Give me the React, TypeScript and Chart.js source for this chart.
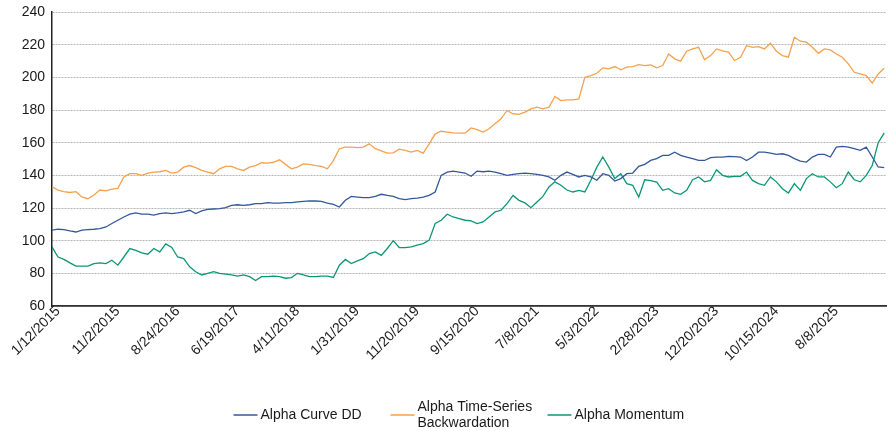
import React, { useEffect, useRef } from "react";
import { Chart, registerables } from "chart.js";

Chart.register(...registerables);

const tickLabels = [
  "1/12/2015", "11/2/2015", "8/24/2016", "6/19/2017", "4/11/2018", "1/31/2019", "11/20/2019",
  "9/15/2020", "7/8/2021", "5/3/2022", "2/28/2023", "12/20/2023", "10/15/2024", "8/8/2025",
];
const pointsPerTick = 10;

const seriesNames = ["Alpha Curve DD", "Alpha Time-Series Backwardation", "Alpha Momentum"];

const curveDD = [
  106.4, 107, 106.8, 106, 105.3, 106.4, 106.8, 107, 107.4, 108.4,
  110.5, 112.5, 114.5, 116.2, 117, 116.2, 116.2, 115.6, 116.6, 117,
  116.6, 117, 117.6, 118.6, 116.6, 118.2, 119.2, 119.4, 119.6, 120.2,
  121.6, 122, 121.6, 122, 122.7, 122.7, 123.3, 123, 123, 123.3,
  123.3, 123.7, 124, 124.3, 124.3, 124.1, 123, 122.2, 120.6, 124.7,
  127.1, 126.7, 126.3, 126.3, 127.1, 128.4, 127.7, 127.1, 125.7, 125.1,
  125.7, 126.1, 126.7, 127.7, 129.8, 140, 142, 142.6, 142, 141.4,
  139.4, 142.6, 142.2, 142.6, 142, 141, 140, 140.6, 141, 141.4,
  141, 140.6, 140, 139, 137, 140, 142, 140.6, 139, 140,
  139, 137, 141, 140, 136.5, 138, 141, 141.4, 145.5, 146.7,
  149.1, 150.2, 152.2, 152.2, 154.2, 152.2, 151.2, 150.2, 149.1, 149.1,
  150.8, 151.2, 151.2, 151.6, 151.4, 151.2, 149.1, 151.2, 154.2, 154.2,
  153.6, 152.8, 153.2, 152.2, 150.2, 148.7, 148.1, 151.2, 152.8, 152.8,
  151.2, 157.3, 157.7, 157.3, 156.3, 155.3, 157.3, 151.2, 145.1, 144.7,
];

const backwardation = [
  133, 131, 130, 129.5, 130, 126.8, 125.7, 128, 131, 130.5,
  131.5, 132, 139, 141, 141, 140, 141.4, 142, 142.2, 143,
  141.4, 142, 145, 146, 144.7, 143, 142, 141, 144, 145.5,
  145.5, 144, 143, 145, 146, 147.7, 147.5, 148, 149.5, 146.7,
  144, 145, 147, 146.7, 146, 145.5, 144, 149, 156.3, 157.3,
  157.3, 157, 157.3, 159.3, 156.3, 155, 153.6, 153.8, 156, 155.3,
  154.2, 155.3, 153.6, 159.3, 165.4, 167, 166.5, 166, 165.8, 165.8,
  169, 168, 166.5, 168.5, 171.6, 174.6, 179.7, 177.7, 177.3, 178.7,
  180.7, 181.7, 180.7, 181.7, 188.3, 185.8, 186.2, 186.2, 186.8, 200,
  201, 202.5, 205.8, 205.2, 206.6, 204.6, 206.2, 206.6, 207.8, 207.2,
  207.6, 205.8, 207.2, 214.3, 211.3, 209.9, 216, 217.4, 218.4, 210.7,
  213.3, 217.4, 216.2, 215.5, 210.3, 212.3, 219.4, 218.4, 218.8, 217.4,
  220.9, 216, 213.3, 212.3, 224.5, 222.1, 221.5, 218.4, 214.7, 217.4,
  216.8, 214.3, 212.3, 208.2, 203.1, 202.1, 201.1, 196.4, 202.1, 205.5,
];

const momentum = [
  96.2, 90, 88.5, 86.4, 84.4, 84.4, 84.4, 86, 86.4, 86,
  88, 85, 90, 95.2, 94.1, 92.5, 91.7, 95.2, 93.1, 98,
  95.8, 90, 89, 84, 81, 79, 80, 81, 80, 79.5,
  79, 78.3, 79, 78, 75.6, 78, 78, 78.3, 78, 77,
  77.4, 80, 79, 78, 78, 78.3, 78.3, 77.5, 85, 88.5,
  86, 87.6, 89, 92.1, 93.1, 91, 95.2, 100, 95.8, 95.8,
  96.2, 97.2, 98.2, 100.3, 110.5, 112.5, 116.2, 114.5, 113.5, 112.5,
  112.1, 110.5, 111.5, 114.5, 117.6, 118.6, 122.7, 127.7, 124.7, 123.1,
  120.2, 123.7, 127.1, 132.9, 136, 133.9, 131, 129.8, 130.8, 129.8,
  137, 145, 151.2, 145, 138, 141, 134.9, 133.9, 126.7, 137.3,
  136.8, 135.9, 130.8, 131.8, 129.2, 128.4, 130.8, 137.3, 139, 136,
  136.9, 143.4, 140, 139, 139.4, 139.4, 142, 136.9, 134.9, 133.9,
  139, 136, 131.8, 129.2, 134.9, 130.8, 138, 141, 139, 139,
  136, 132.4, 134.9, 142, 137.3, 136, 140, 146, 160, 166,
];

const colors = ["#33589a", "#f4a24e", "#0b9775"];

const FONT = '"Liberation Sans", Arial, sans-serif';

const slotLegend = {
  id: "slotLegend",
  afterDraw(chart: any) {
    const { ctx, chartArea } = chart;
    const ds = chart.data.datasets;
    const slot = 157;
    const marker = 24;
    const textGap = 3;
    const total = slot * ds.length;
    const startX = (chartArea.left + chartArea.right) / 2 - total / 2;
    const cy = chart.height - 16;
    const lh = 16;
    ctx.save();
    ctx.font = "14px " + FONT;
    ctx.textBaseline = "middle";
    ctx.textAlign = "left";
    ds.forEach((d: any, i: number) => {
      const x0 = startX + i * slot;
      ctx.strokeStyle = d.borderColor;
      ctx.lineWidth = 1.5;
      ctx.beginPath();
      ctx.moveTo(x0, cy);
      ctx.lineTo(x0 + marker, cy);
      ctx.stroke();
      const maxW = slot - marker - textGap - 4;
      const words = String(d.label).split(" ");
      const lines: string[] = [];
      let cur = "";
      words.forEach((w) => {
        const t = cur ? cur + " " + w : w;
        if (cur && ctx.measureText(t).width > maxW) {
          lines.push(cur);
          cur = w;
        } else cur = t;
      });
      if (cur) lines.push(cur);
      ctx.fillStyle = "#1a1a1a";
      lines.forEach((ln, j) => {
        ctx.fillText(ln, x0 + marker + textGap, cy + (j - (lines.length - 1) / 2) * lh);
      });
    });
    ctx.restore();
  },
};

export default function App() {
  const ref = useRef<HTMLCanvasElement | null>(null);
  useEffect(() => {
    if (!ref.current) return;
    Chart.defaults.font.family = FONT;
    const series = [curveDD, backwardation, momentum];
    const chart = new Chart(ref.current, {
      type: "line",
      data: {
        datasets: series.map((vals, s) => ({
          label: seriesNames[s],
          data: vals.map((v, i) => ({ x: i, y: v })),
          borderColor: colors[s],
          backgroundColor: colors[s],
          borderWidth: 1.3,
          pointRadius: 0,
          tension: 0,
          fill: false,
        })),
      },
      options: {
        animation: false,
        responsive: false,
        maintainAspectRatio: false,
        layout: { padding: { top: 12, right: 7, left: 0, bottom: 63 } },
        plugins: { legend: { display: false }, tooltip: { enabled: false } },
        scales: {
          x: {
            type: "linear",
            min: 0,
            max: 139.3,
            afterBuildTicks: (scale: any) => {
              scale.ticks = tickLabels.map((_, k) => ({ value: k * pointsPerTick }));
            },
            afterFit: (scale: any) => {
              scale.height = 62;
            },
            ticks: {
              autoSkip: false,
              minRotation: 45,
              maxRotation: 45,
              padding: -3,
              labelOffset: 6,
              color: "#1a1a1a",
              font: { size: 14, family: FONT },
              callback: (value: any) => tickLabels[Math.round(Number(value) / pointsPerTick)] ?? "",
            },
            grid: { display: false, drawTicks: false },
            border: { display: true, color: "#333333", width: 1.8 },
          },
          y: {
            min: 60,
            max: 240,
            afterFit: (scale: any) => {
              scale.width = 52;
              scale.paddingTop = 0;
              scale.paddingBottom = 0;
            },
            ticks: {
              stepSize: 20,
              padding: 7,
              color: "#1a1a1a",
              font: { size: 14, family: FONT },
            },
            grid: {
              color: "#b5b5b5",
              lineWidth: 1,
              drawTicks: false,
            },
            border: { display: true, color: "#222222", width: 1.5, dash: [2, 1] },
          },
        },
      },
      plugins: [slotLegend],
    });
    return () => chart.destroy();
  }, []);
  return (
    <div style={{ position: "fixed", left: 0, top: 0, width: 893, height: 431, background: "#fff" }}>
      <canvas ref={ref} width={893} height={431} style={{ display: "block" }} />
    </div>
  );
}
